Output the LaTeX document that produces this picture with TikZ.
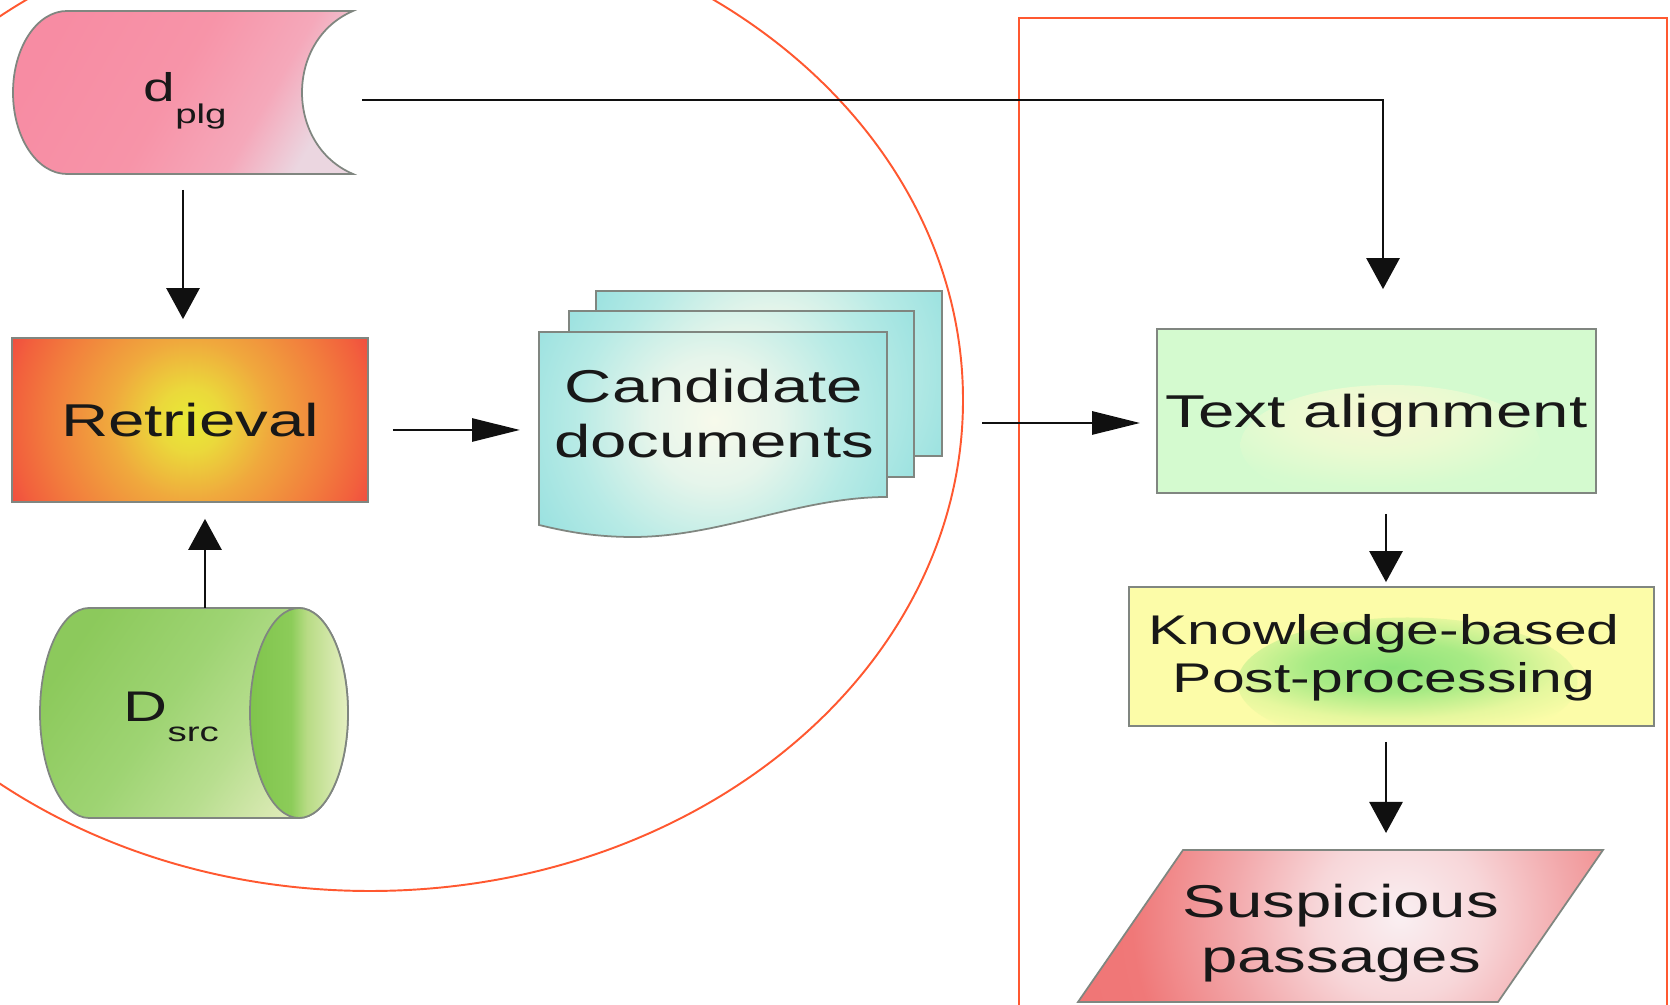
\documentclass[tikz,border=0pt]{standalone}
\usepackage{fontspec}
\setmainfont{Liberation Sans}[FakeStretch=1.42]
\usetikzlibrary{arrows.meta,calc}

\definecolor{edgegray}{RGB}{128,134,128}
\definecolor{inkc}{RGB}{24,24,24}
\definecolor{ringred}{RGB}{255,88,48}
\definecolor{arrowc}{RGB}{16,16,16}
\definecolor{tagreen}{RGB}{212,250,207}
\definecolor{kbyellow}{RGB}{252,252,168}

\newcommand\fzmain{\fontsize{13.1}{15.65}\selectfont}
\newcommand\fzkb{\fontsize{11.8}{13.66}\selectfont}

% shadings
\pgfdeclareradialshading{retrshade}{\pgfpoint{0bp}{0bp}}{rgb(0bp)=(0.91,0.92,0.21); rgb(4bp)=(0.92,0.85,0.23); rgb(10bp)=(0.94,0.66,0.24); rgb(18bp)=(0.95,0.48,0.24); rgb(22bp)=(0.95,0.38,0.24); rgb(25bp)=(0.94,0.29,0.25); rgb(50bp)=(0.94,0.29,0.25)}
\pgfdeclarehorizontalshading{dplgshade}{100bp}{rgb(0bp)=(0.97,0.55,0.64); rgb(25bp)=(0.97,0.55,0.64); rgb(48bp)=(0.97,0.58,0.66); rgb(64bp)=(0.96,0.66,0.73); rgb(75bp)=(0.92,0.84,0.88); rgb(100bp)=(0.92,0.84,0.88)}
\pgfdeclarehorizontalshading{cylshade}{100bp}{rgb(0bp)=(0.55,0.79,0.36); rgb(25bp)=(0.55,0.79,0.36); rgb(45bp)=(0.62,0.83,0.45); rgb(60bp)=(0.72,0.87,0.56); rgb(75bp)=(0.87,0.92,0.72); rgb(100bp)=(0.87,0.92,0.72)}
\pgfdeclarehorizontalshading{faceshade}{100bp}{rgb(0bp)=(0.50,0.77,0.30); rgb(25bp)=(0.50,0.77,0.30); rgb(46bp)=(0.55,0.80,0.35); rgb(54bp)=(0.72,0.86,0.52); rgb(75bp)=(0.90,0.94,0.76); rgb(100bp)=(0.90,0.94,0.76)}
\pgfdeclareradialshading{docshade}{\pgfpoint{0bp}{0bp}}{rgb(0bp)=(0.97,0.98,0.92); rgb(7bp)=(0.90,0.96,0.92); rgb(15bp)=(0.72,0.92,0.90); rgb(25bp)=(0.56,0.87,0.87); rgb(50bp)=(0.56,0.87,0.87)}
\pgfdeclareradialshading{suspshade}{\pgfpoint{0bp}{0bp}}{rgb(0bp)=(0.98,0.94,0.95); rgb(5bp)=(0.97,0.84,0.85); rgb(10bp)=(0.95,0.66,0.67); rgb(16bp)=(0.94,0.47,0.47); rgb(25bp)=(0.94,0.45,0.45); rgb(50bp)=(0.94,0.45,0.45)}
\pgfdeclareradialshading{taglowshade}{\pgfpoint{0bp}{0bp}}{rgb(0bp)=(0.97,0.97,0.83); rgb(10bp)=(0.92,0.98,0.82); rgb(20bp)=(0.84,0.98,0.81); rgb(25bp)=(0.83,0.98,0.81); rgb(50bp)=(0.83,0.98,0.81)}
\pgfdeclareradialshading{kbglowshade}{\pgfpoint{0bp}{0bp}}{rgb(0bp)=(0.55,0.89,0.48); rgb(8bp)=(0.66,0.92,0.52); rgb(16bp)=(0.90,0.97,0.62); rgb(22bp)=(0.99,0.99,0.66); rgb(25bp)=(0.99,0.99,0.66); rgb(50bp)=(0.99,0.99,0.66)}

\begin{document}
\begin{tikzpicture}[x=0.1mm, y=-0.1mm,
  outline/.style={draw=edgegray, line width=0.5pt},
  anchorbox/.style={inner sep=0pt, outer sep=0pt},
  label/.style={inner sep=0pt, text=inkc},
  ring/.style={draw=ringred, line width=0.55pt},
  varrow/.style={draw=arrowc, line width=0.8pt, -{Triangle[length=3.1mm, width=3.3mm]}},
  harrow/.style={draw=arrowc, line width=0.8pt, -{Triangle[length=4.8mm, width=2.3mm]}},
  process/.style={outline, inner sep=0pt, text=inkc}
]
\useasboundingbox (0,0) rectangle (1670,1005);
\fill[white] (0,0) rectangle (1670,1005);
\clip (0,0) rectangle (1670,1005);

% suspicious document d_plg (stored-data shape)
\shadedraw[shading=dplgshade, shading angle=-30, outline]
  (67,11) -- (353,11) .. controls (285,40) and (285,145) .. (353,174)
  -- (67,174) .. controls (37,174) and (13,137.5) .. (13,92.5)
  .. controls (13,47.5) and (37,11) .. (67,11) -- cycle;
\node[anchorbox, minimum width=34mm, minimum height=16.3mm] (dplg) at (183,92.5) {};
\node[label, anchor=base west] (dplglabel) at (143,102)
  {\fontsize{11.4}{13}\selectfont d\raisebox{-2.2mm}{\fontsize{7.7}{9}\selectfont plg}};

% retrieval step
\node[process, minimum width=35.6mm, minimum height=16.4mm, font=\fzmain,
  path picture={\shade[shading=retrshade] (path picture bounding box.center) circle (20mm);}]
  (retr) at (190,420) {Retrieval};

% source collection D_src (horizontal cylinder)
\shadedraw[shading=cylshade, shading angle=-35, outline]
  (89,608) -- (299,608) .. controls (326,608) and (348,655) .. (348,713)
  .. controls (348,771) and (326,818) .. (299,818) -- (89,818)
  .. controls (62,818) and (40,771) .. (40,713)
  .. controls (40,655) and (62,608) .. (89,608) -- cycle;
\shadedraw[shading=faceshade, outline] (299,713) ellipse [x radius=4.9mm, y radius=10.5mm];
\node[anchorbox, minimum width=30.8mm, minimum height=21mm] (dsrc) at (194,713) {};
\node[label, anchor=base west] (dsrclabel) at (123,722)
  {\fontsize{12.2}{14}\selectfont D\raisebox{-2mm}{\fontsize{7.7}{9}\selectfont src}};

% candidate documents (stack of sheets)
\path[outline, path picture={\shade[shading=docshade] (path picture bounding box.center) circle (22mm);}]
  (596,291) rectangle (942,456);
\path[outline, path picture={\shade[shading=docshade] (path picture bounding box.center) circle (22mm);}]
  (569,311) rectangle (914,477);
\path[outline, path picture={\shade[shading=docshade] ([shift={(1,-14)}]path picture bounding box.center) circle (23mm);}]
  (539,332) -- (887,332) -- (887,497) .. controls (800,497) and (720,537) .. (633,537)
  .. controls (590,537) and (560,530) .. (539,525) -- cycle;
\node[anchorbox, minimum width=40.3mm, minimum height=24.6mm] (stack) at (740.5,414) {};
\node[label, align=center, font=\fzmain] (candtxt) at (714,414) {Candidate\\documents};

% text alignment step
\node[process, fill=tagreen, minimum width=43.9mm, minimum height=16.4mm, font=\fzmain,
  path picture={\shade[shading=taglowshade] ([shift={(14,34)}]path picture bounding box.center) ellipse [x radius=15mm, y radius=6mm];}]
  (ta) at (1376.5,411) {};
\node[label, font=\fzmain] (tatxt) at (1376.5,416) {Text alignment};

% knowledge-based post-processing step
\node[process, fill=kbyellow, minimum width=52.5mm, minimum height=13.9mm,
  path picture={\shade[shading=kbglowshade] ([shift={(16,26)}]path picture bounding box.center) ellipse [x radius=17mm, y radius=6.5mm];}]
  (kb) at (1391.5,656.5) {};
\node[label, font=\fzkb, align=center] (kbtxt) at (1384,658) {Knowledge-based\\Post-processing};

% output: suspicious passages
\path[outline, path picture={\shade[shading=suspshade] (1400,915) circle (42mm);}]
  (1183,850) -- (1603,850) -- (1498,1002) -- (1078,1002) -- cycle;
\node[anchorbox, minimum width=52.5mm, minimum height=15.2mm] (susp) at (1340.5,926) {};
\node[label, align=center, font=\fzmain] (susptxt) at (1341,933) {Suspicious\\passages};

% grouping outlines
\draw[ring] (370,400) ellipse [x radius=59.3mm, y radius=49.1mm];
\draw[ring] (1019,1040) -- (1019,18) -- (1667,18) -- (1667,1040);

% connectors
\draw[varrow, shorten <=1.6mm, shorten >=1.8mm] (dplg.south) -- (retr.north -| dplg.south);
\draw[varrow, shorten >=1.6mm] ([xshift=1.1mm]dsrc.north) -- ([xshift=1.1mm]dsrc.north |- retr.south);
\draw[harrow, shorten <=2.4mm, shorten >=1.9mm] ([yshift=-1mm]retr.east) -- ([yshift=-1mm]retr.east -| stack.west);
\draw[harrow, shorten <=4mm, shorten >=1.6mm] ([yshift=-1.2mm]ta.west -| stack.east) -- ([yshift=-1.2mm]ta.west);
\draw[varrow, shorten <=0.9mm, shorten >=3.9mm] ([yshift=-0.75mm]dplg.east) -| ([xshift=0.65mm]ta.north);
\draw[varrow, shorten <=2mm, shorten >=0.4mm] ([xshift=0.95mm]ta.south) -- ([xshift=0.95mm]ta.south |- kb.north);
\draw[varrow, shorten <=1.5mm, shorten >=1.7mm] ([xshift=-0.55mm]kb.south) -- ([xshift=-0.55mm]kb.south |- susp.north);
\end{tikzpicture}
\end{document}
